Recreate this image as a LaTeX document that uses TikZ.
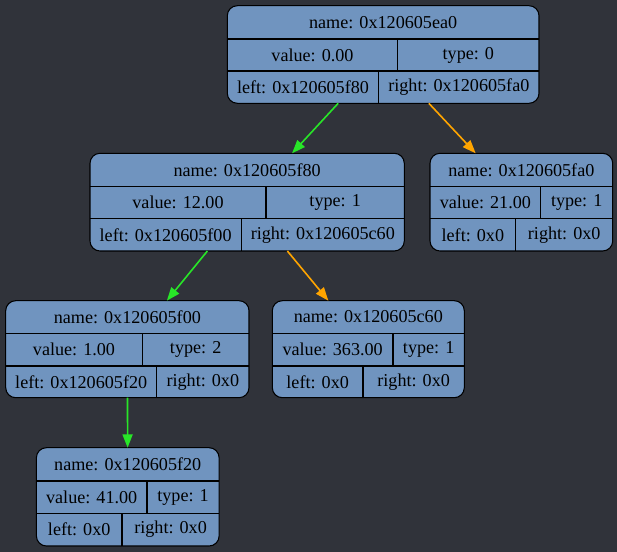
\documentclass[tikz,border=0pt]{standalone}
\usepackage{fontspec}
\setmainfont{Liberation Serif}
\usetikzlibrary{calc,arrows.meta}
\definecolor{bg}{HTML}{30333A}
\definecolor{recfill}{HTML}{7094BF}
\definecolor{edgegreen}{RGB}{40,230,40}
\definecolor{edgeorange}{HTML}{FFA500}
\tikzset{
  recbox/.style={draw=black, line width=0.8pt, fill=recfill, rounded corners=7.5pt, inner sep=0pt, outer sep=0pt},
  divider/.style={draw=black, line width=0.8pt},
  celltext/.style={font=\fontsize{13.6}{16}\selectfont, text=black, inner sep=0pt},
  greenedge/.style={draw=edgegreen, line width=1.2pt, -{Triangle[length=10pt,width=7.5pt]}},
  orangeedge/.style={draw=edgeorange, line width=1.2pt, -{Triangle[length=10pt,width=7.5pt]}}
}
% #1 name, #2 x1, #3 y1, #4 x2, #5 y2, #6 yA, #7 yB, #8 col row2, #9 col row3
\newcommand\recframe[9]{%
  \node[recbox, minimum width={(#4-#2)*0.75}, minimum height={(#5-#3)*0.75}] (#1) at ({(#2+#4)/2},{(#3+#5)/2}) {};
  \draw[divider] (#2,#6) -- (#4,#6);
  \draw[divider] (#2,#7) -- (#4,#7);
  \draw[divider] (#8,#6) -- (#8,#7);
  \draw[divider] (#9,#7) -- (#9,#5);
  \coordinate (#1-name) at ({(#2+#4)/2},{(#3+#6)/2});
  \coordinate (#1-value) at ({(#2+#8)/2},{(#6+#7)/2});
  \coordinate (#1-type) at ({(#8+#4)/2},{(#6+#7)/2});
  \coordinate (#1-left) at ({(#2+#9)/2},{(#7+#5)/2});
  \coordinate (#1-right) at ({(#9+#4)/2},{(#7+#5)/2});
}
% #1 name, #2..#6 texts
\newcommand\rectext[6]{%
  \node[celltext] (#1-tn) at (#1-name) {#2};
  \node[celltext] (#1-tv) at (#1-value) {#3};
  \node[celltext] (#1-tt) at (#1-type) {#4};
  \node[celltext] (#1-tl) at (#1-left) {#5};
  \node[celltext] (#1-tr) at (#1-right) {#6};
}
\begin{document}
\begin{tikzpicture}[x=0.75pt,y=-0.75pt]
\fill[bg] (0,0) rectangle (617,552);
\useasboundingbox (0,0) rectangle (617,552);

\recframe{ea0}{227.3}{5.7}{539}{103.3}{39}{71}{397.7}{378.7}
\rectext{ea0}{name: 0x120605ea0}{value: 0.00}{type: 0}{left: 0x120605f80}{right: 0x120605fa0}

\recframe{f80}{90}{153.3}{404.3}{251}{186.3}{218.7}{266}{241.3}
\rectext{f80}{name: 0x120605f80}{value: 12.00}{type: 1}{left: 0x120605f00}{right: 0x120605c60}

\recframe{fa0}{430}{153.3}{612.7}{251}{186.3}{218.7}{540.7}{515.7}
\rectext{fa0}{name: 0x120605fa0}{value: 21.00}{type: 1}{left: 0x0}{right: 0x0}

\recframe{f00}{5.7}{300.7}{249}{397.7}{333.3}{366}{142.3}{156.7}
\rectext{f00}{name: 0x120605f00}{value: 1.00}{type: 2}{left: 0x120605f20}{right: 0x0}

\recframe{c60}{272.3}{300.7}{464.3}{397.7}{333.3}{366}{393}{363}
\rectext{c60}{name: 0x120605c60}{value: 363.00}{type: 1}{left: 0x0}{right: 0x0}

\recframe{f20}{36.4}{447.7}{219.1}{546}{481}{513.3}{147}{122}
\rectext{f20}{name: 0x120605f20}{value: 41.00}{type: 1}{left: 0x0}{right: 0x0}

\draw[greenedge] (ea0) -- (f80);
\draw[orangeedge] (ea0) -- (fa0);
\draw[greenedge] (f80) -- (f00);
\draw[orangeedge] (f80) -- (c60);
\draw[greenedge] (f00) -- (f20);
\end{tikzpicture}
\end{document}
